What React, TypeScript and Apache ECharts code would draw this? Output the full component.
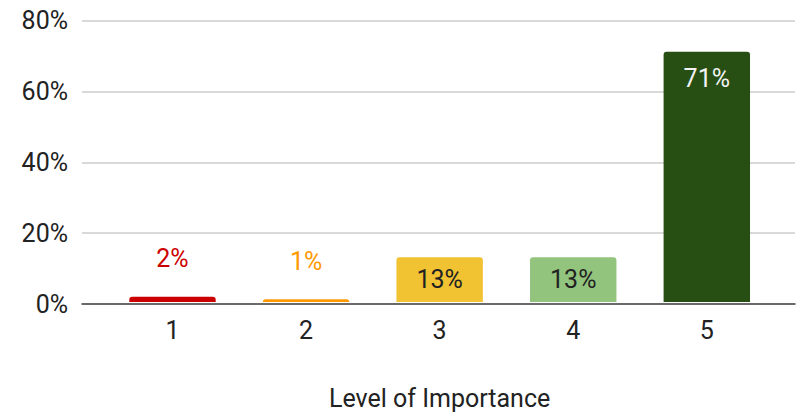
import React, { useEffect, useRef } from "react";
import * as echarts from "echarts";

const categories = ["1", "2", "3", "4", "5"];
const values = [1.5, 0.8, 12.7, 12.7, 71.2];
const yTicks = [0, 20, 40, 60, 80];
const axisTitle = "Level of Importance";

const barColors = ["#cc0000", "#ff9900", "#f1c232", "#93c47d", "#274e13"];
const labelPlacement = [
  { position: "top", distance: 26, color: "#cc0000" },
  { position: "top", distance: 25, color: "#ff9900" },
  { position: "inside", distance: 0, color: "#222222" },
  { position: "inside", distance: 0, color: "#222222" },
  { position: "insideTop", distance: 14, color: "#f3f3f3" },
];

const FONT = "Roboto";
const FS = 25;

export default function App() {
  const ref = useRef<HTMLDivElement>(null);
  useEffect(() => {
    if (!ref.current) return;
    const chart = echarts.init(ref.current, undefined, { renderer: "svg" });
    const top = 20.7;
    const bottom = 112;
    chart.setOption({
      animation: false,
      backgroundColor: "#ffffff",
      textStyle: { fontFamily: FONT },
      grid: [
        { left: 82, right: 5, top, bottom },
        { left: 105.7, right: 26.4, top, bottom },
      ],
      xAxis: [
        {
          gridIndex: 0,
          type: "value",
          min: 0,
          max: 1,
          axisLine: { show: true, lineStyle: { color: "#444444", width: 1.5 } },
          axisTick: { show: false },
          axisLabel: { show: false },
          splitLine: { show: false },
          z: 5,
        },
        {
          gridIndex: 1,
          type: "category",
          data: categories,
          axisLine: { show: false },
          axisTick: { show: false },
          axisLabel: {
            fontSize: FS,
            color: "#222222",
            fontFamily: FONT,
            margin: 16,
          },
          name: axisTitle,
          nameLocation: "middle",
          nameGap: 84,
          nameTextStyle: { fontSize: FS, color: "#222222", fontFamily: FONT },
        },
      ],
      yAxis: [
        {
          gridIndex: 0,
          type: "value",
          min: yTicks[0],
          max: yTicks[yTicks.length - 1],
          interval: yTicks[1] - yTicks[0],
          axisLine: { show: false },
          axisTick: { show: false },
          axisLabel: {
            formatter: "{value}%",
            fontSize: FS,
            color: "#222222",
            fontFamily: FONT,
            margin: 14,
          },
          splitLine: { show: true, lineStyle: { color: "#cccccc", width: 1.5 } },
        },
        {
          gridIndex: 1,
          type: "value",
          min: yTicks[0],
          max: yTicks[yTicks.length - 1],
          interval: yTicks[1] - yTicks[0],
          show: false,
          splitLine: { show: false },
        },
      ],
      series: [
        {
          type: "bar",
          xAxisIndex: 1,
          yAxisIndex: 1,
          barWidth: "64.7%",
          data: values.map((v, i) => ({
            value: v,
            itemStyle: { color: barColors[i], borderRadius: [3, 3, 0, 0] },
            label: {
              show: true,
              position: labelPlacement[i].position,
              distance: labelPlacement[i].distance,
              color: labelPlacement[i].color,
              fontSize: FS,
              fontFamily: FONT,
              formatter: (p: any) => Math.round(p.value) + "%",
            },
          })),
        },
      ],
    });
    return () => chart.dispose();
  }, []);
  return (
    <div
      ref={ref}
      style={{ position: "fixed", left: 0, top: 0, width: 800, height: 416 }}
    />
  );
}
